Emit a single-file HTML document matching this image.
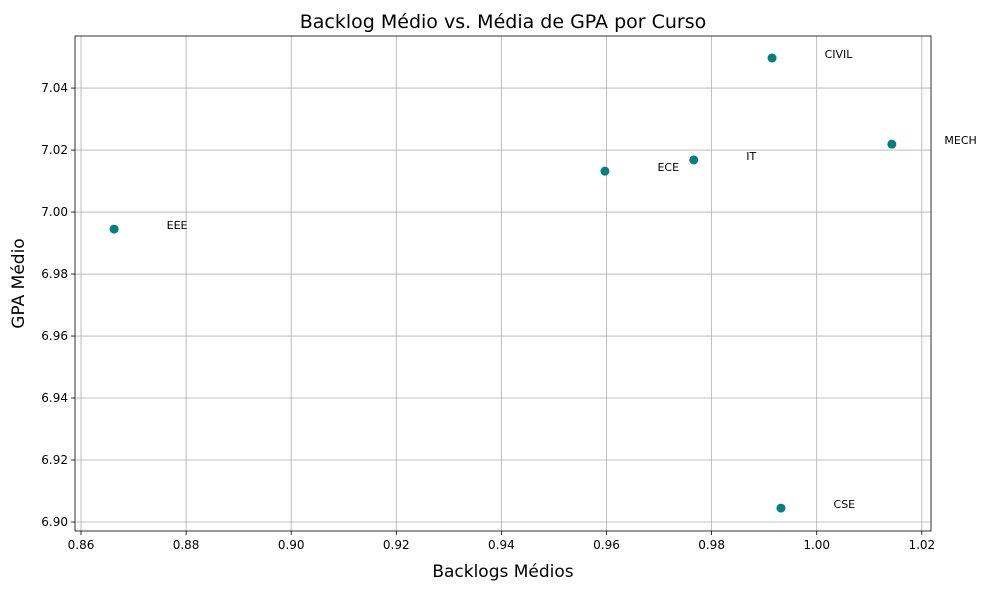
<!DOCTYPE html>
<html><head><meta charset="utf-8"><style>
body{margin:0;background:#fff;font-family:"Liberation Sans","DejaVu Sans",sans-serif;}
</style></head><body>
<svg id="chart" width="991" height="590" xmlns="http://www.w3.org/2000/svg" font-family="DejaVu Sans, Liberation Sans, sans-serif"></svg>
<script>
const courses=["EEE","ECE","IT","CIVIL","MECH","CSE"];
const backlogs=[0.8663,0.9597,0.9766,0.9915,1.0143,0.9932];
const gpas=[6.9945,7.0132,7.0168,7.0497,7.0219,6.9045];
const xTicks=[0.86,0.88,0.90,0.92,0.94,0.96,0.98,1.00,1.02];
const yTicks=[6.90,6.92,6.94,6.96,6.98,7.00,7.02,7.04];
const L=75,R=931,T=36,B=531,xmin=0.85886,xmax=1.02175,ymin=6.8971,ymax=7.0568;
const sx=v=>L+(v-xmin)/(xmax-xmin)*(R-L);
const sy=v=>B-(v-ymin)/(ymax-ymin)*(B-T);
const svg=document.getElementById('chart');
const NS='http://www.w3.org/2000/svg';
function mk(t,a,txt){const e=document.createElementNS(NS,t);for(const k in a)e.setAttribute(k,a[k]);if(txt!==undefined)e.textContent=txt;svg.appendChild(e);return e;}
xTicks.forEach(v=>{const x=sx(v);
const g=mk('line',{x1:x,x2:x,y1:T,y2:B,stroke:'#b0b0b0','stroke-width':0.8});

mk('line',{x1:x,x2:x,y1:B,y2:B+4,stroke:'#000','stroke-width':0.8});
const t=mk('text',{x:x,y:B+18,'text-anchor':'middle','font-size':12},v.toFixed(2));
});
yTicks.forEach(v=>{const y=sy(v);
const g=mk('line',{x1:L,x2:R,y1:y,y2:y,stroke:'#b0b0b0','stroke-width':0.8});

mk('line',{x1:L-4,x2:L,y1:y,y2:y,stroke:'#000','stroke-width':0.8});
const t=mk('text',{x:L-7,y:y+4,'text-anchor':'end','font-size':12},v.toFixed(2));
});
const f=mk('rect',{x:L,y:T,width:R-L,height:B-T,fill:'none',stroke:'#000','stroke-width':0.8});

courses.forEach((c,i)=>{
const p=mk('circle',{cx:sx(backlogs[i]),cy:sy(gpas[i]),r:4.5,fill:'teal'});

const t=mk('text',{x:sx(backlogs[i]+0.01),y:sy(gpas[i]),'font-size':11},c);
});
const ti=mk('text',{x:(L+R)/2,y:28,'text-anchor':'middle','font-size':19},'Backlog Médio vs. Média de GPA por Curso');

const xt=mk('text',{x:(L+R)/2,y:577,'text-anchor':'middle','font-size':17},'Backlogs Médios');

const yt=mk('text',{x:24,y:(T+B)/2,'text-anchor':'middle','font-size':17,transform:'rotate(-90 24 '+((T+B)/2)+')'},'GPA Médio');

</script>
</body></html>
